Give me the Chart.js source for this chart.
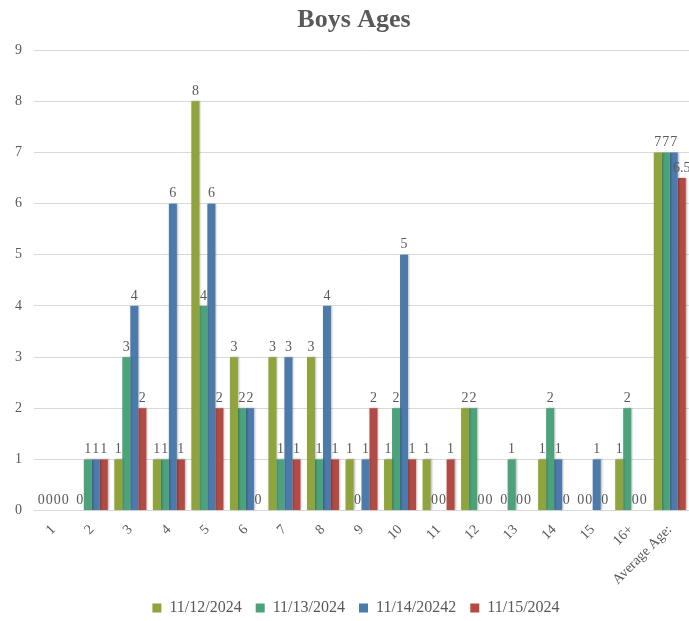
<!DOCTYPE html>
<html>
<head>
<meta charset="utf-8">
<title>Boys Ages</title>
<script src="https://cdn.jsdelivr.net/npm/chart.js@4/dist/chart.umd.min.js"></script>
<style>
  html, body { margin: 0; padding: 0; background: #fff; overflow: hidden; }
  #wrap { width: 689px; height: 630px; position: relative; }
</style>
</head>
<body>
<div id="wrap"><canvas id="agesChart"></canvas></div>
<script>
// age buckets along the x axis
const ages = ['1','2','3','4','5','6','7','8','9','10','11','12','13','14','15','16+','Average Age:'];
const seriesNames = ['11/12/2024','11/13/2024','11/14/20242','11/15/2024'];
const day12 = [0,0,1,1,8,3,3,3,1,1,1,2,0,1,0,1,7];
const day13 = [0,1,3,1,4,2,1,1,0,2,0,2,1,2,0,2,7];
const day14 = [0,1,4,6,6,2,3,4,1,5,0,0,0,1,1,0,7];
const day15 = [0,1,2,1,2,0,1,1,2,1,1,0,0,0,0,0,6.5];
const yTicks = [0,1,2,3,4,5,6,7,8,9];
const colors = ['#8fa43c','#4ca27a','#4c7aab','#b34a43'];

const serif = '"Liberation Serif", "DejaVu Serif", serif';
const grey = '#595959';

// soft shadow behind the bars, then value labels on top
const barShadow = {
  id: 'barShadow',
  beforeDatasetsDraw(chart){
    const c = chart.ctx;
    c.save();
    c.shadowColor = 'rgba(0,0,0,0.28)';
    c.shadowBlur = 2;
    c.shadowOffsetX = 1;
    c.shadowOffsetY = 0;
  },
  afterDatasetsDraw(chart){
    chart.ctx.restore();
  }
};

const valueLabels = {
  id: 'valueLabels',
  afterDatasetsDraw(chart){
    const c = chart.ctx;
    c.save();
    c.font = '14px ' + serif;
    c.fillStyle = grey;
    c.textAlign = 'center';
    c.textBaseline = 'bottom';
    chart.data.datasets.forEach((ds, i)=>{
      chart.getDatasetMeta(i).data.forEach((bar, j)=>{
        c.fillText(String(ds.data[j]), bar.x, bar.y - 3);
      });
    });
    c.restore();
  }
};

// nudge title and legend a little right of the canvas centre
const nudge = {
  id: 'nudge',
  afterLayout(chart){
    const shift = (box, dx)=>{ if(box){ box.left += dx; box.right += dx; } };
    shift(chart.titleBlock, 8);
    shift(chart.legend, 10);
  }
};

const allSeries = [day12, day13, day14, day15];

new Chart(document.getElementById('agesChart'), {
  type: 'bar',
  data: {
    labels: ages,
    datasets: allSeries.map((vals, i)=>({
      label: seriesNames[i],
      data: vals,
      backgroundColor: colors[i],
      borderWidth: 0,
      barPercentage: 1.0,
      categoryPercentage: 0.83
    }))
  },
  options: {
    responsive: true,
    maintainAspectRatio: false,
    animation: false,
    layout: { padding: { left: 3, right: 0, top: 4, bottom: 4 } },
    scales: {
      x: {
        grid: { display: false },
        border: { color: '#d9d9d9' },
        afterFit: axis => {
          // rotated labels shouldn't push the plot in from the left
          axis.paddingLeft = 0;
          axis.paddingRight = 0;
          axis.height -= 5;
        },
        ticks: {
          color: grey,
          font: { family: serif, size: 14 },
          maxRotation: 45, minRotation: 45,
          autoSkip: false
        }
      },
      y: {
        min: 0, max: 9,
        afterBuildTicks: axis => { axis.ticks = yTicks.map(v=>({ value: v })); },
        grid: { color: '#d9d9d9', drawTicks: false },
        border: { display: false },
        ticks: {
          color: grey,
          padding: 12,
          font: { family: serif, size: 14 }
        }
      }
    },
    plugins: {
      title: {
        display: true,
        text: 'Boys Ages',
        color: grey,
        font: { family: serif, size: 26, weight: 'bold' },
        padding: { top: 1, bottom: 14 }
      },
      legend: {
        position: 'bottom',
        labels: {
          color: grey,
          boxWidth: 9, boxHeight: 9,
          padding: 14,
          font: { family: serif, size: 16 }
        }
      },
      tooltip: { enabled: false }
    }
  },
  plugins: [barShadow, valueLabels, nudge]
});
</script>
</body>
</html>
